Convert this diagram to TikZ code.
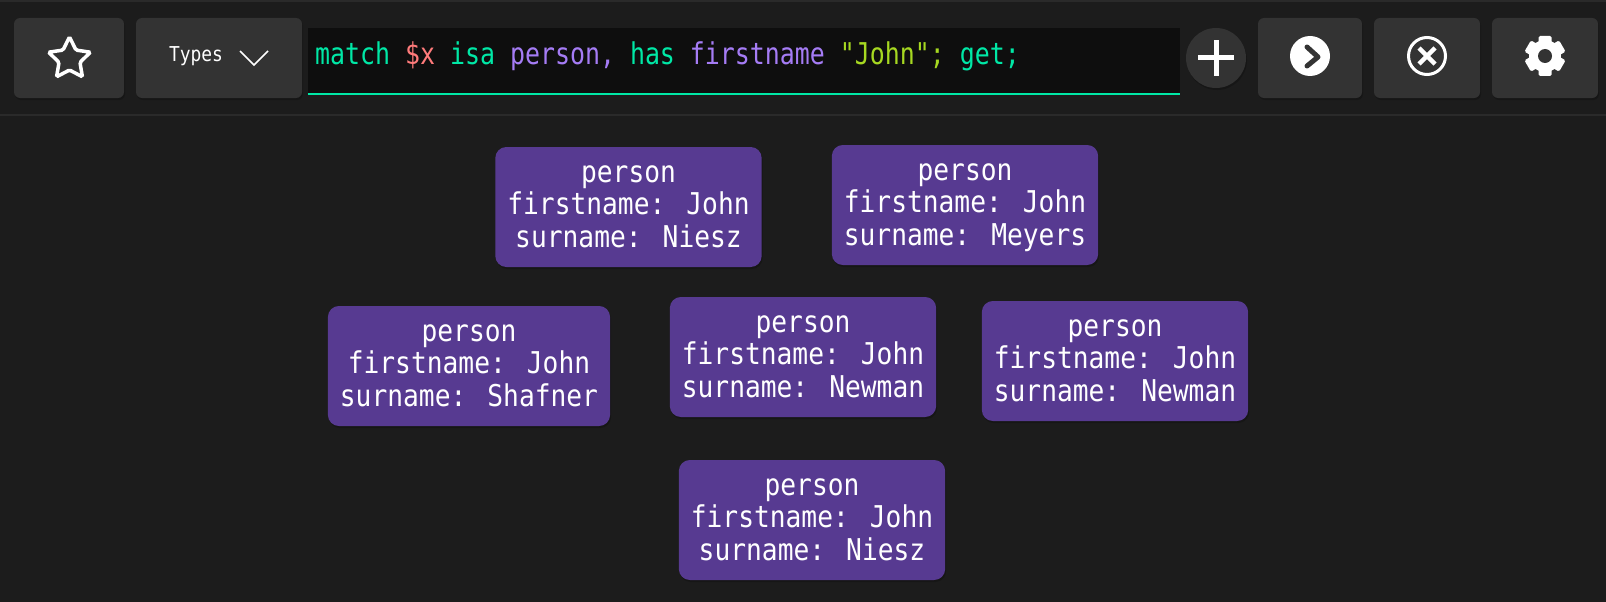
\documentclass[tikz,border=0pt]{standalone}
\usepackage{fontspec}
\newfontfamily\monofont[FakeStretch=0.875]{DejaVu Sans Mono}
\newfontfamily\queryfont[FakeStretch=0.83]{DejaVu Sans Mono}
\usetikzlibrary{shapes.geometric,shadows}
\definecolor{pagebg}{HTML}{1C1C1C}
\definecolor{barline}{HTML}{2A2A2A}
\definecolor{btnfill}{HTML}{333333}
\definecolor{editorbg}{HTML}{0E0E0E}
\definecolor{resultfill}{HTML}{573A91}
\definecolor{kwgreen}{HTML}{00E8A6}
\definecolor{varred}{HTML}{FF7B7B}
\definecolor{typepurple}{HTML}{A57CF5}
\definecolor{strlime}{HTML}{A6D821}
\begin{document}
\begin{tikzpicture}[
	x=1pt, y=-1pt,
	softshadow/.style={drop shadow={fill=black, opacity=0.2, shadow xshift=1pt, shadow yshift=-2pt}},
	toolbtn/.style={rectangle, fill=btnfill, rounded corners=6pt, minimum height=80pt, softshadow},
	instnode/.style={rectangle, fill=resultfill, rounded corners=11pt, text=white, align=center, minimum width=266pt, minimum height=120pt, inner xsep=12pt, inner ysep=0pt, text height=80pt, text depth=0pt, font=\monofont\fontsize{30pt}{32.3pt}\selectfont, softshadow},
	]
	
	\useasboundingbox (0,0) rectangle (1606,602);
	\fill[pagebg] (0,0) rectangle (1606,602);
	\fill[barline] (0,0) rectangle (1606,2);
	\fill[barline] (0,114) rectangle (1606,116);
	
	%Toolbar
	\node[toolbtn, minimum width=110pt]	(favbtn)	at (69,58)		{};
	\node[toolbtn, minimum width=166pt]	(typesbtn)	at (219,58)		{};
	\node[toolbtn, minimum width=104pt]	(runbtn)	at (1310,58)	{};
	\node[toolbtn, minimum width=106pt]	(clearbtn)	at (1427,58)	{};
	\node[toolbtn, minimum width=106pt]	(setbtn)	at (1545,58)	{};
	\node[circle, fill=btnfill, minimum size=60pt, inner sep=0pt, softshadow]	(addbtn)	at (1216,58)	{};
	
	%Editor
	\node[rectangle, fill=editorbg, minimum width=872pt, minimum height=66pt, inner sep=0pt]	(editor)	at (744,61)	{};
	\draw[kwgreen, line width=2pt] (editor.south west) -- (editor.south east);
	\node[anchor=base west, inner sep=0pt, font=\queryfont\fontsize{30pt}{32pt}\selectfont]	(query)	at (315,64)
		{\textcolor{kwgreen}{match} \textcolor{varred}{\$x} \textcolor{kwgreen}{isa} \textcolor{typepurple}{person,} \textcolor{kwgreen}{has} \textcolor{typepurple}{firstname} \textcolor{strlime}{"John";} \textcolor{kwgreen}{get;}};
	
	%Icons
	\node[star, star points=5, star point ratio=2, draw=white, line width=3.5pt, rounded corners=1.5pt, minimum size=44pt, inner sep=0pt]	(staricon)	at (69.5,59)	{};
	\node[anchor=base, inner sep=0pt, text=white, font=\monofont\fontsize{20.5pt}{24pt}\selectfont]	(typeslabel)	at (196,62)	{Types};
	\coordinate (typesarrow) at (254,58);
	\draw[white, line width=1.5pt] ([shift={(-14,-7)}]typesarrow) -- ([shift={(0,7)}]typesarrow) -- ([shift={(14,-7)}]typesarrow);
	\draw[white, line width=5pt] ([xshift=-18pt]addbtn.center) -- ([xshift=18pt]addbtn.center);
	\draw[white, line width=5pt] ([yshift=-18pt]addbtn.center) -- ([yshift=18pt]addbtn.center);
	
	\node[circle, fill=white, minimum size=40pt, inner sep=0pt]	(runicon)	at (1310,56)	{};
	\draw[btnfill, line width=5pt, line cap=round, line join=round] ([shift={(-3,-9)}]runicon.center) -- ([shift={(8,1)}]runicon.center) -- ([shift={(-3,10)}]runicon.center);
	
	\node[circle, draw=white, line width=3pt, minimum size=37pt, inner sep=0pt]	(clearicon)	at (1427,56)	{};
	\draw[white, line width=4.5pt] ([shift={(-8,-8)}]clearicon.center) -- ([shift={(8,8)}]clearicon.center);
	\draw[white, line width=4.5pt] ([shift={(-8,8)}]clearicon.center) -- ([shift={(8,-8)}]clearicon.center);
	
	\coordinate (gearicon) at (1545,56);
	\foreach \a in {30,90,...,330} {
		\fill[white, rounded corners=1.5pt, rotate around={\a:(gearicon)}] ([shift={(0,-6.5)}]gearicon) rectangle ([shift={(20,6.5)}]gearicon);
	}
	\fill[white] (gearicon) circle[radius=16pt];
	\fill[btnfill] (gearicon) circle[radius=7pt];
	
	%Results
	\node[instnode]	(niesza)	at (628.5,207)	{person\\firstname: John\\surname: Niesz};
	\node[instnode]	(meyers)	at (965,205)	{person\\firstname: John\\surname: Meyers};
	\node[instnode]	(shafner)	at (469,366)	{person\\firstname: John\\surname: Shafner};
	\node[instnode]	(newmana)	at (803,357)	{person\\firstname: John\\surname: Newman};
	\node[instnode]	(newmanb)	at (1115,361)	{person\\firstname: John\\surname: Newman};
	\node[instnode]	(nieszb)	at (812,520)	{person\\firstname: John\\surname: Niesz};
	
\end{tikzpicture}
\end{document}
